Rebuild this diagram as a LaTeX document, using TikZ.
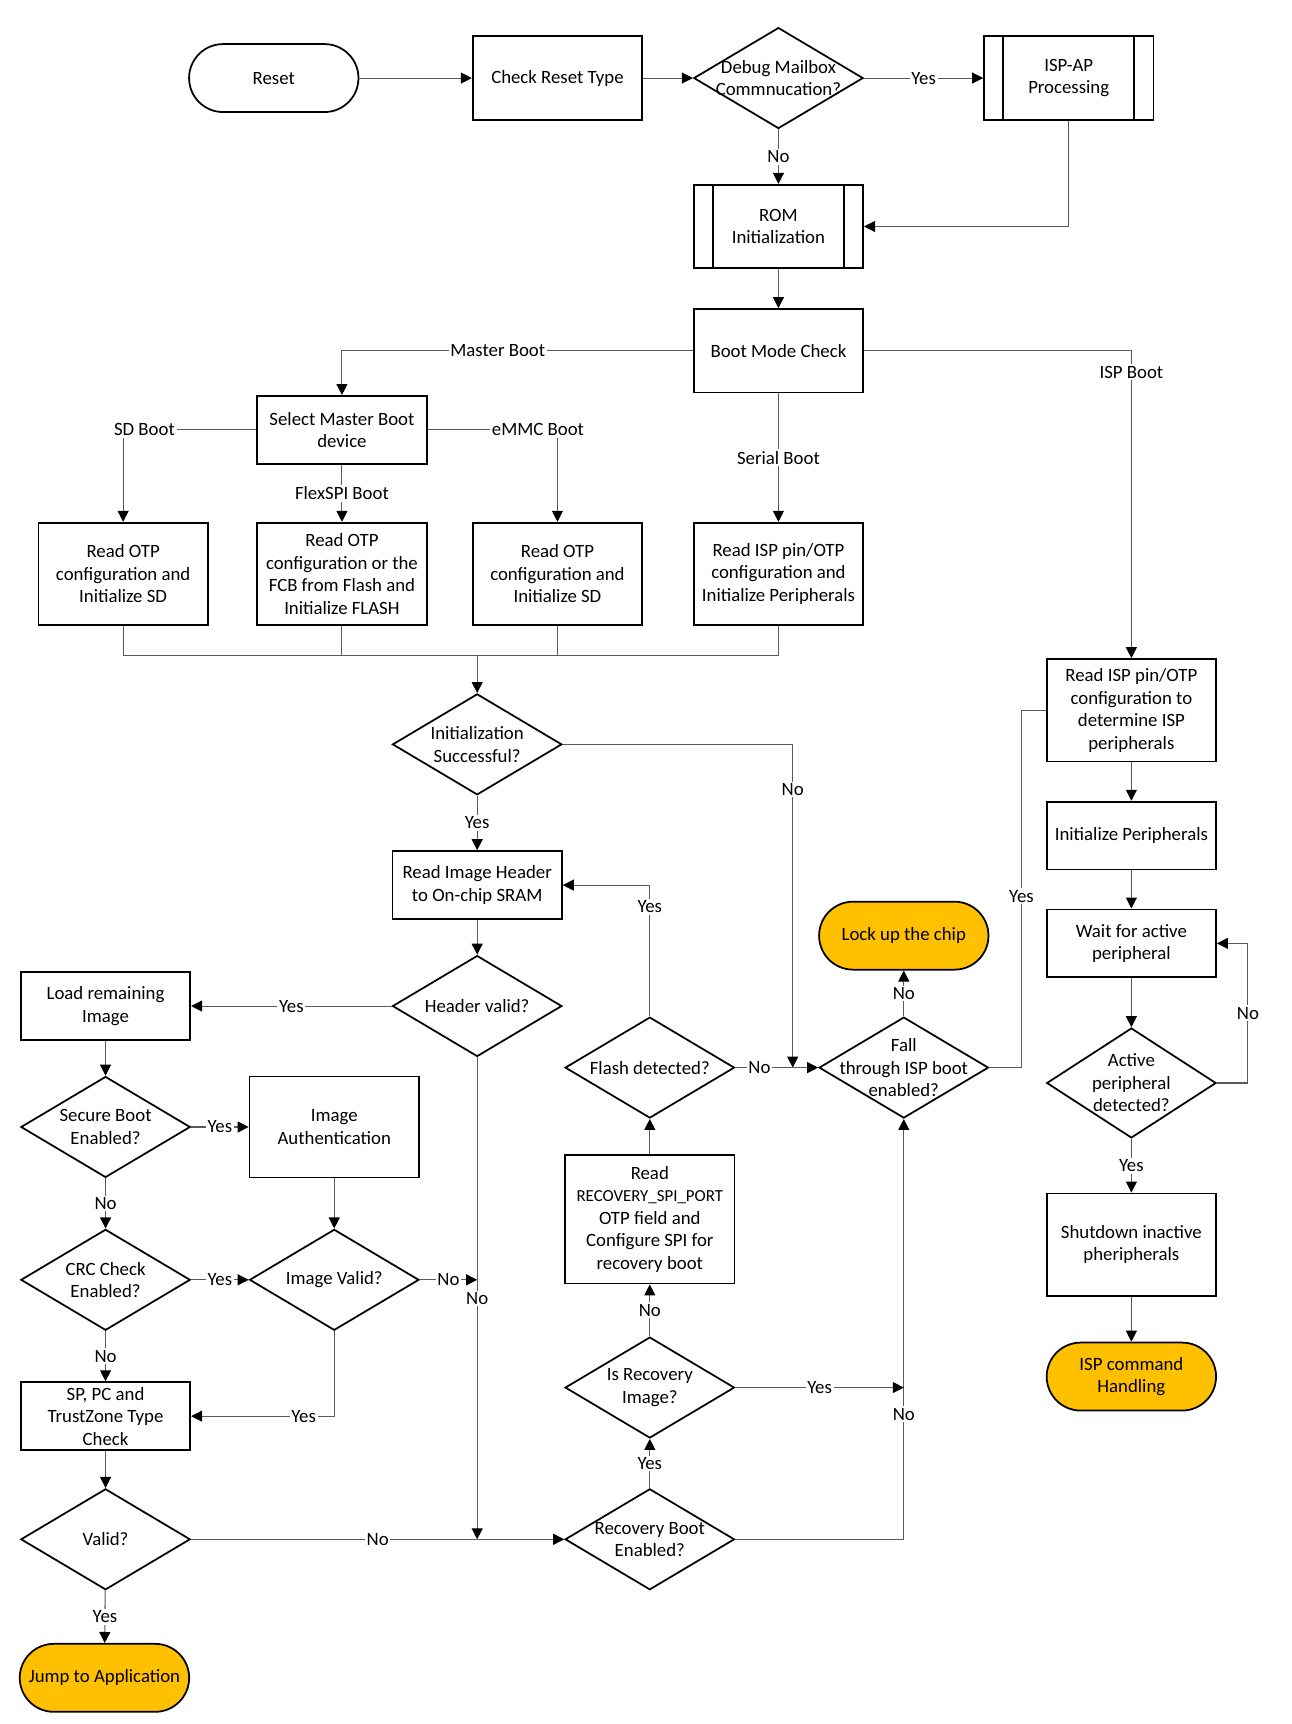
\documentclass[tikz,border=0pt]{standalone}
\usepackage{fontspec}
\setmainfont{Carlito}
\usepackage{tikz}
\usetikzlibrary{arrows.meta,shapes.geometric}

\definecolor{termorange}{HTML}{FFC000}
\definecolor{linegray}{HTML}{5A5A5A}

\begin{document}
\begin{tikzpicture}[x=0.022cm, y=-0.022cm,
	font=\fontsize{10.7}{12.8}\selectfont,
	>={Triangle[length=2.2mm,width=2.2mm,color=black]},
	box/.style={draw, line width=1pt, rectangle, align=center, inner sep=2pt, minimum width=3.39cm, minimum height=1.36cm},
	proc/.style={box, minimum height=1.67cm},
	tall/.style={box, minimum height=2.05cm},
	dec/.style={draw, line width=1pt, diamond, align=center, inner sep=-8mm, minimum width=3.39cm, minimum height=2.02cm},
	term/.style={draw, line width=1pt, rectangle, rounded corners=0.68cm, align=center, minimum width=3.39cm, minimum height=1.36cm},
	endterm/.style={term, fill=termorange},
	flow/.style={draw=linegray, line width=0.6pt},
	lbl/.style={fill=white, inner sep=1pt}]

	% Frame
	\useasboundingbox (0,0) rectangle (1175,1568);

	% Reset and ROM
	\node[term] (reset) at (249,71) {Reset};
	\node[proc] (chk) at (507,71) {Check Reset Type};
	\node[dec] (dbg) at (708,71) {Debug Mailbox\\Commnucation?};
	\node[proc] (ispap) at (972,71) {ISP-AP\\Processing};
	\node[proc] (rom) at (708,206) {ROM\\Initialization};
	\node[proc] (bmc) at (708,319) {Boot Mode Check};
	\foreach \n in {ispap, rom}
		\draw[line width=1pt] ([xshift=0.4cm]\n.north west) -- ([xshift=0.4cm]\n.south west)
			([xshift=-0.4cm]\n.north east) -- ([xshift=-0.4cm]\n.south east);

	% Boot devices
	\node[box] (sel) at (311,391) {Select Master Boot\\device};
	\node[tall] (rd1) at (112,522) {Read OTP\\configuration and\\Initialize SD};
	\node[tall] (rd2) at (311,522) {Read OTP\\configuration or the\\FCB from Flash and\\Initialize FLASH};
	\node[tall] (rd3) at (507,522) {Read OTP\\configuration and\\Initialize SD};
	\node[tall] (rd4) at (708,522) {Read ISP pin/OTP\\configuration and\\Initialize Peripherals};

	% Image checks
	\node[dec] (init) at (434,677) {Initialization\\Successful?};
	\node[box] (hdr) at (434,805) {Read Image Header\\to On-chip SRAM};
	\node[dec] (hv) at (434,915) {Header valid?};
	\node[box] (load) at (96,915) {Load remaining\\Image};
	\node[dec] (sec) at (96,1025) {Secure Boot\\Enabled?};
	\node[box, minimum height=2.02cm] (auth) at (304,1025) {Image\\Authentication};
	\node[dec] (crc) at (96,1164) {CRC Check\\Enabled?};
	\node[dec] (iv) at (304,1164) {Image Valid?};
	\node[box, inner ysep=0pt] (sp) at (96,1288) {SP, PC and\\TrustZone Type\\Check};
	\node[dec] (valid) at (96,1400) {Valid?};
	\node[endterm] (jump) at (95,1526) {Jump to Application};

	% Recovery
	\node[dec] (rbe) at (591,1400) {Recovery Boot\\Enabled?};
	\node[dec] (iri) at (591,1262) {Is Recovery\\Image?};
	\node[box, minimum height=2.57cm] (rec) at (591,1109) {Read\\{\fontsize{9.6}{12.8}\selectfont RECOVERY\_SPI\_PORT}\\OTP field and\\Configure SPI for\\recovery boot};
	\node[dec] (fd) at (591,971) {Flash detected?};
	\node[dec] (fall) at (822,971) {Fall\\through ISP boot\\enabled?};
	\node[endterm] (lock) at (822,851) {Lock up the chip};

	% ISP
	\node[tall] (isp1) at (1029,646) {Read ISP pin/OTP\\configuration to\\determine ISP\\peripherals};
	\node[box] (inip) at (1029,760) {Initialize Peripherals};
	\node[box] (wait) at (1029,858) {Wait for active\\peripheral};
	\node[dec, minimum height=2.2cm] (act) at (1029,985) {Active\\peripheral\\detected?};
	\node[tall] (shut) at (1029,1132) {Shutdown inactive\\pheripherals};
	\node[endterm] (cmd) at (1029,1252) {ISP command\\Handling};

	% Free ends
	\coordinate (mrg) at (434,596);
	\coordinate (initno) at (721,971);
	\coordinate (ivno) at (434,1164);
	\coordinate (hvno) at (434,1400);
	\coordinate (iriyes) at (822,1262);
	\coordinate (fallyes) at (929,971);
	\coordinate (actno) at (1135,985);

	% Connectors
	\draw[flow,->] (reset) -- (chk);
	\draw[flow,->] (chk) -- (dbg);
	\draw[flow,->] (dbg) -- node[lbl] {Yes} (ispap);
	\draw[flow,->] (dbg) -- node[lbl] {No} (rom);
	\draw[flow,->] (ispap.south) |- (rom.east);
	\draw[flow,->] (rom) -- (bmc);
	\draw[flow,->] (bmc.west) -| node[lbl, pos=0.278] {Master Boot} (sel.north);
	\draw[flow,->] (bmc.east) -| node[lbl, pos=0.535] {ISP Boot} (isp1.north);
	\draw[flow,->] (bmc) -- node[lbl] {Serial Boot} (rd4);
	\draw[flow,->] (sel.west) -| node[lbl, pos=0.42] {SD Boot} (rd1.north);
	\draw[flow,->] (sel.east) -| node[lbl, pos=0.425] {eMMC Boot} (rd3.north);
	\draw[flow,->] (sel) -- node[lbl] {FlexSPI Boot} (rd2);

	\draw[flow] (rd1.south) |- (rd4.south |- mrg) -- (rd4.south);
	\draw[flow] (rd2.south) -- (rd2.south |- mrg);
	\draw[flow] (rd3.south) -- (rd3.south |- mrg);
	\draw[flow,->] (mrg) -- (init);

	\draw[flow,->] (init) -- node[lbl] {Yes} (hdr);
	\draw[flow,->] (init.east) -| node[lbl, pos=0.57] {No} (initno);
	\draw[flow,->] (hdr) -- (hv);
	\draw[flow,->] (hv) -- node[lbl] {Yes} (load);
	\draw[flow,->] (hv.south) -- node[lbl] {No} (hvno);
	\draw[flow,->] (load) -- (sec);
	\draw[flow,->] (sec) -- node[lbl] {Yes} (auth);
	\draw[flow,->] (sec) -- node[lbl] {No} (crc);
	\draw[flow,->] (auth) -- (iv);
	\draw[flow,->] (crc) -- node[lbl] {Yes} (iv);
	\draw[flow,->] (crc) -- node[lbl] {No} (sp);
	\draw[flow,->] (iv.east) -- node[lbl] {No} (ivno);
	\draw[flow,->] (iv.south) |- node[lbl, pos=0.607] {Yes} (sp.east);
	\draw[flow,->] (sp) -- (valid);
	\draw[flow,->] (valid) -- node[lbl] {No} (rbe);
	\draw[flow,->] (valid) -- node[lbl] {Yes} (jump);

	\draw[flow,->] (rbe) -- node[lbl] {Yes} (iri);
	\draw[flow,->] (rbe.east) -| node[lbl, pos=0.649] {No} (fall.south);
	\draw[flow,->] (iri.east) -- node[lbl] {Yes} (iriyes);
	\draw[flow,->] (iri) -- node[lbl] {No} (rec);
	\draw[flow,->] (rec) -- (fd);
	\draw[flow,->] (fd.north) |- node[lbl, pos=0.417] {Yes} (hdr.east);
	\draw[flow,->] (fd) -- node[lbl, pos=0.29] {No} (fall);
	\draw[flow,->] (fall) -- node[lbl] {No} (lock);
	\draw[flow] (fall.east) -- (fallyes) |- node[lbl, pos=0.24] {Yes} (isp1.west);

	\draw[flow,->] (isp1) -- (inip);
	\draw[flow,->] (inip) -- (wait);
	\draw[flow,->] (wait) -- (act);
	\draw[flow,->] (act.east) -- (actno) |- node[lbl, pos=0.25] {No} (wait.east);
	\draw[flow,->] (act) -- node[lbl] {Yes} (shut);
	\draw[flow,->] (shut) -- (cmd);
\end{tikzpicture}
\end{document}
